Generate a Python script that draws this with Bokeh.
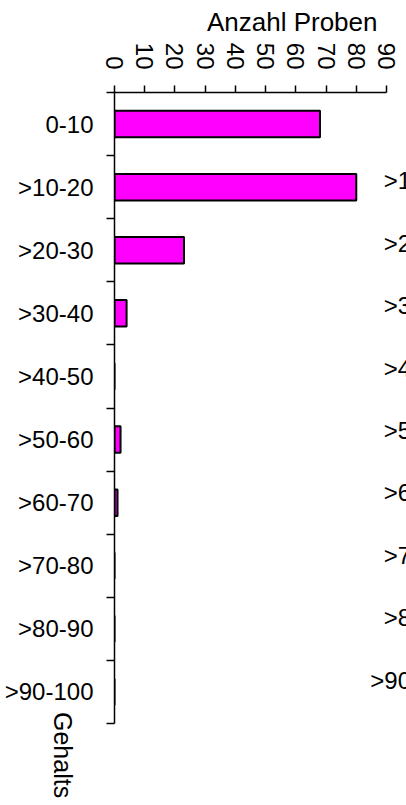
import math
from bokeh.plotting import figure
from bokeh.models import Range1d, FixedTicker, ColumnDataSource, Label, Div
from bokeh.layouts import column
from bokeh.embed import file_html
from bokeh.resources import INLINE

categories = ["0-10", ">10-20", ">20-30", ">30-40", ">40-50",
              ">50-60", ">60-70", ">70-80", ">80-90", ">90-100"]
counts = [68, 80, 23, 4, 0, 2, 1, 0, 0, 0]
x_ticks = [0, 10, 20, 30, 40, 50, 60, 70, 80, 90]
x_title = "Anzahl Proben"
y_title = "Gehalts"
# category labels of a neighbouring panel, cut off at the right window edge
side_labels = [">10-20", ">20-30", ">30-40", ">40-50", ">50-60",
               ">60-70", ">70-80", ">80-90", ">90-100"]

FONT = "Liberation Sans"
W = 406
TOP, FRAME_H, BOTTOM = 92, 631, 2
LEFT = 114
X_MAX = 90
X_VIEW = X_MAX * (W - LEFT) / 272.0   # frame reaches the right window edge

n = len(categories)
centers = [i + 0.5 for i in range(n)]
bounds = list(range(n + 1))
src = ColumnDataSource(dict(y=centers, v=counts, cat=categories))

p = figure(width=W, height=TOP + FRAME_H + BOTTOM, output_backend="svg",
           toolbar_location=None,
           x_range=Range1d(0, X_VIEW), y_range=Range1d(n, 0),
           x_axis_location="above",
           min_border_left=LEFT, min_border_right=0,
           min_border_top=TOP, min_border_bottom=BOTTOM)
p.outline_line_color = None
p.grid.visible = False
p.background_fill_color = "white"
p.border_fill_color = "white"

p.title.text = x_title
p.title.align = "right"
p.title.offset = 29
p.title.standoff = 5
p.title.text_font = FONT
p.title.text_font_size = "26px"
p.title.text_font_style = "normal"
p.title.text_color = "black"

p.hbar(y="y", right="v", left=0, height=0.42, source=src,
       fill_color="#FF00FF", line_color="black", line_width=2)

# x axis (top)
xa = p.xaxis[0]
xa.bounds = (0, X_MAX)
xa.ticker = FixedTicker(ticks=x_ticks, minor_ticks=[])
xa.major_label_orientation = -math.pi / 2
xa.major_label_text_font = FONT
xa.major_label_text_font_size = "24px"
xa.major_label_text_color = "black"
xa.major_label_standoff = 16
xa.major_tick_out = 7
xa.major_tick_in = 0
xa.minor_tick_line_color = None
xa.axis_line_color = "black"
xa.axis_line_width = 1.5
xa.major_tick_line_width = 1.5
xa.major_tick_line_color = "black"

# y axis (left): labels at category centres, ticks at category boundaries
ya = p.yaxis[0]
ya.ticker = FixedTicker(ticks=centers, minor_ticks=bounds)
ya.major_label_overrides = {c: lab for c, lab in zip(centers, categories)}
ya.major_label_text_font = FONT
ya.major_label_text_font_size = "24px"
ya.major_label_text_color = "black"
ya.major_label_standoff = 13
ya.major_tick_line_color = None
ya.major_tick_out = 0
ya.major_tick_in = 0
ya.minor_tick_line_color = "black"
ya.minor_tick_line_width = 1.5
ya.minor_tick_out = 8
ya.minor_tick_in = 0
ya.axis_line_color = "black"
ya.axis_line_width = 1.5

# neighbouring panel's labels (clipped at the right edge like in the reference)
for k, lab in enumerate(side_labels):
    p.add_layout(Label(x=114.0, y=1.40 + 0.989 * k, text=lab,
                       text_align="right", text_baseline="middle",
                       text_font=FONT, text_font_size="24px",
                       text_color="black"))

ylab = Div(text=y_title, width=30, height=92, margin=(-13, 0, 0, 45),
           styles={"writing-mode": "vertical-rl", "font-family": FONT,
                   "font-size": "25px", "line-height": "1", "color": "black"})

layout = column(p, ylab)
open("out.html", "w").write(file_html(layout, INLINE))
